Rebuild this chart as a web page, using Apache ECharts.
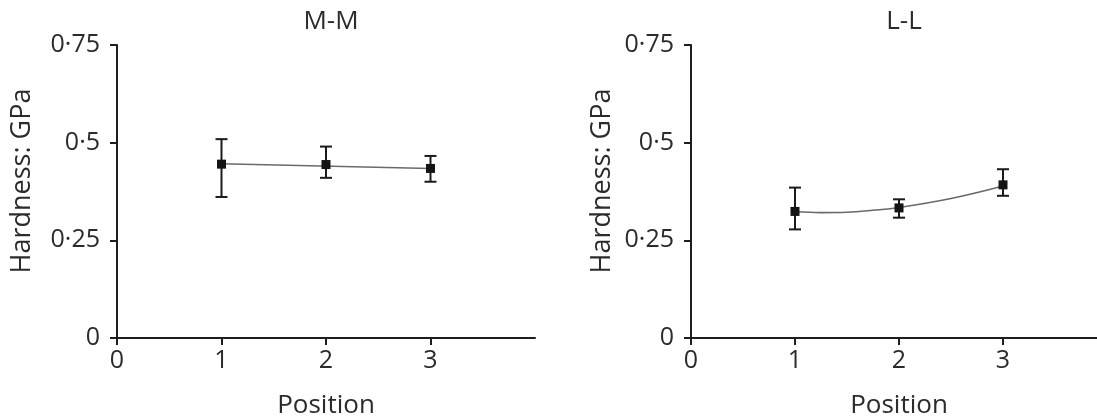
<!DOCTYPE html>
<html>
<head>
<meta charset="utf-8">
<script src="https://cdn.jsdelivr.net/npm/echarts@6/dist/echarts.min.js"></script>
<style>
html,body{margin:0;padding:0;background:#fff;}
#chart{width:1097px;height:419px;}
</style>
</head>
<body>
<div id="chart"></div>
<script>
// ---- data ----
const panelTitles = ['M-M', 'L-L'];
const positions = [1, 2, 3];
const mmMean = [0.445, 0.444, 0.434];
const mmLow  = [0.361, 0.410, 0.400];
const mmHigh = [0.509, 0.490, 0.466];
const llMean = [0.324, 0.333, 0.392];
const llLow  = [0.278, 0.308, 0.364];
const llHigh = [0.385, 0.355, 0.432];
// fitted trend lines
const mmFitX = [1, 3];
const mmFitY = [0.446, 0.434];
const llFitX = [1, 1.25, 1.5, 1.75, 2, 2.5, 3];
const llFitY = [0.323, 0.321, 0.322, 0.327, 0.334, 0.357, 0.389];
const xTickValues = [0, 1, 2, 3];
const yTickValues = [0, 0.25, 0.5, 0.75];
const yTickLabels = ['0', '0·25', '0·5', '0·75'];
const xAxisName = 'Position';
const yAxisName = 'Hardness: GPa';

const FONT = '"Open Sans", "Noto Sans", sans-serif';
const TXT = '#2b2b2b';
const AX = '#1e1e1e';

function yLabel(v) {
  const i = yTickValues.findIndex(t => Math.abs(t - v) < 1e-9);
  return i >= 0 ? yTickLabels[i] : '';
}

function xAxisCfg(idx) {
  return {
    type: 'value', gridIndex: idx, min: 0, max: 4, interval: 1,
    name: xAxisName, nameLocation: 'middle', nameGap: 55,
    nameTextStyle: { fontFamily: FONT, fontSize: 26, color: TXT },
    axisLine: { show: true, lineStyle: { color: AX, width: 2 } },
    axisTick: { show: true, length: 7, lineStyle: { color: AX, width: 2 }, customValues: xTickValues },
    axisLabel: { margin: 10, fontFamily: FONT, fontSize: 25, color: TXT, customValues: xTickValues },
    splitLine: { show: false }
  };
}
function yAxisCfg(idx) {
  return {
    type: 'value', gridIndex: idx, min: 0, max: 0.75, interval: 0.25,
    axisLine: { show: true, onZero: false, lineStyle: { color: AX, width: 2 } },
    axisTick: { show: true, length: 7, lineStyle: { color: AX, width: 2 } },
    axisLabel: { margin: 17, fontFamily: FONT, fontSize: 25, color: TXT, formatter: yLabel },
    splitLine: { show: false }
  };
}

function errData(low, high) {
  return positions.map((p, i) => [p, low[i], high[i]]);
}
function errRender(params, api) {
  const x = api.value(0);
  const lo = api.coord([x, api.value(1)]);
  const hi = api.coord([x, api.value(2)]);
  const cap = 6;
  const st = { stroke: '#1a1a1a', lineWidth: 2, fill: null };
  return {
    type: 'group',
    children: [
      { type: 'line', shape: { x1: lo[0], y1: lo[1], x2: hi[0], y2: hi[1] }, style: st },
      { type: 'line', shape: { x1: lo[0] - cap, y1: lo[1], x2: lo[0] + cap, y2: lo[1] }, style: st },
      { type: 'line', shape: { x1: hi[0] - cap, y1: hi[1], x2: hi[0] + cap, y2: hi[1] }, style: st }
    ]
  };
}
function fitSeries(idx, xs, ys) {
  return {
    type: 'line', xAxisIndex: idx, yAxisIndex: idx,
    data: xs.map((x, i) => [x, ys[i]]),
    smooth: 0.4, showSymbol: false, symbol: 'none',
    lineStyle: { color: '#6a6a6a', width: 1.6 },
    z: 1, silent: true, animation: false
  };
}
function meanSeries(idx, mean) {
  return {
    type: 'scatter', xAxisIndex: idx, yAxisIndex: idx,
    data: positions.map((p, i) => [p, mean[i]]),
    symbol: 'rect', symbolSize: 9,
    itemStyle: { color: '#141414', opacity: 1 },
    z: 3, animation: false
  };
}

const chart = echarts.init(document.getElementById('chart'), null, { renderer: 'canvas' });
chart.setOption({
  backgroundColor: '#fff',
  animation: false,
  title: [
    { text: panelTitles[0], left: 326, top: 4, textAlign: 'center',
      textStyle: { fontFamily: FONT, fontSize: 26, fontWeight: 'normal', color: TXT } },
    { text: panelTitles[1], left: 899, top: 4, textAlign: 'center',
      textStyle: { fontFamily: FONT, fontSize: 26, fontWeight: 'normal', color: TXT } }
  ],
  grid: [
    { left: 117, top: 45, width: 418, height: 293, containLabel: false, outerBoundsMode: 'none' },
    { left: 691, top: 45, width: 416, height: 293, containLabel: false, outerBoundsMode: 'none' }
  ],
  xAxis: [xAxisCfg(0), xAxisCfg(1)],
  yAxis: [yAxisCfg(0), yAxisCfg(1)],
  graphic: [
    { type: 'text', x: 22, y: 181, rotation: Math.PI / 2,
      style: { text: yAxisName, fontFamily: FONT, fontSize: 27, fill: TXT, align: 'center', verticalAlign: 'middle' } },
    { type: 'text', x: 602, y: 181, rotation: Math.PI / 2,
      style: { text: yAxisName, fontFamily: FONT, fontSize: 27, fill: TXT, align: 'center', verticalAlign: 'middle' } }
  ],
  series: [
    fitSeries(0, mmFitX, mmFitY),
    { type: 'custom', xAxisIndex: 0, yAxisIndex: 0, data: errData(mmLow, mmHigh), renderItem: errRender, z: 2 },
    meanSeries(0, mmMean),
    fitSeries(1, llFitX, llFitY),
    { type: 'custom', xAxisIndex: 1, yAxisIndex: 1, data: errData(llLow, llHigh), renderItem: errRender, z: 2 },
    meanSeries(1, llMean)
  ]
});
</script>
</body>
</html>
